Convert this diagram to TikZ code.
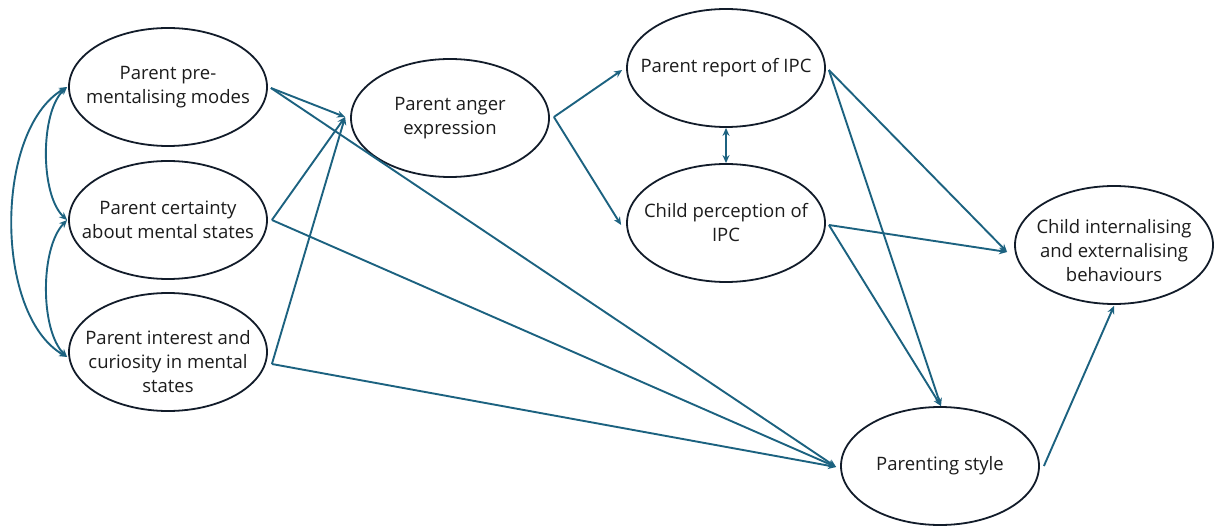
\documentclass[tikz,border=0pt]{standalone}
\usepackage{fontspec}
\setmainfont{Open Sans}
\usetikzlibrary{shapes.geometric,arrows.meta}
\definecolor{linkc}{RGB}{28,98,128}
\definecolor{edgec}{RGB}{18,28,42}
\definecolor{txtc}{RGB}{28,28,28}
\newcommand{\lowtext}[2]{\raisebox{-#1}[\height][\depth]{\begin{tabular}{@{}c@{}}#2\end{tabular}}}
\tikzset{
  var/.style={ellipse, draw=edgec, line width=1.8pt, fill=white, minimum width=198pt, minimum height=118pt, inner xsep=-40pt, inner ysep=-20pt, align=center, text=txtc, font=\fontsize{18.5}{24}\selectfont},
  link/.style={draw=linkc, line width=1.9pt, -{Stealth[length=8pt,width=7pt]}},
  dlink/.style={draw=linkc, line width=1.9pt, {Stealth[length=8pt,width=7pt]}-{Stealth[length=8pt,width=7pt]}}
}
\begin{document}
\begin{tikzpicture}[x=1pt,y=-1pt]
\useasboundingbox (0,0) rectangle (1214,526);
\node[var] (pm) at (168,87) {Parent pre-\\mentalising modes};
\node[var] (pc) at (168,220) {Parent certainty\\about mental states};
\node[var] (pi) at (168,352) {\lowtext{12pt}{Parent interest and\\curiosity in mental\\states}};
\node[var] (ang) at (450,118) {Parent anger\\expression};
\node[var] (rep) at (726,68) {Parent report of IPC};
\node[var] (cp) at (726,223) {Child perception of\\IPC};
\node[var] (ci) at (1114,245) {\lowtext{8pt}{Child internalising\\and externalising\\behaviours}};
\node[var] (ps) at (940,466) {Parenting style};
% left correlations
\draw[dlink] ([xshift=-1pt]pm.west) .. controls (40,112) and (40,195) .. ([xshift=-1pt]pc.west);
\draw[dlink] ([xshift=-1pt]pc.west) .. controls (40,248) and (40,330) .. ([xshift=-1pt,yshift=-5pt]pi.west);
\draw[dlink] ([xshift=-1pt]pm.west) .. controls (-6,130) and (-6,315) .. ([xshift=-1pt,yshift=-5pt]pi.west);
% predictors to anger and parenting style
\coordinate (angin) at ([xshift=-5pt,yshift=1pt]ang.west);
\coordinate (psin) at ([xshift=-4pt,yshift=-1pt]ps.west);
\draw[link] ([xshift=3pt,yshift=-1pt]pm.east) -- (angin);
\draw[link] ([xshift=3pt,yshift=-1pt]pm.east) -- (psin);
\draw[link] ([xshift=4pt]pc.east) -- (angin);
\draw[link] ([xshift=4pt]pc.east) -- (psin);
\draw[link] ([xshift=4pt,yshift=-12pt]pi.east) -- (angin);
\draw[link] ([xshift=4pt,yshift=-12pt]pi.east) -- (psin);
% anger to IPC
\draw[link] ([xshift=4pt,yshift=1pt]ang.east) -- ([xshift=-4pt,yshift=-2pt]rep.west);
\draw[link] ([xshift=4pt,yshift=1pt]ang.east) -- ([xshift=-5pt,yshift=-2pt]cp.west);
\draw[dlink] (rep.south) -- (cp.north);
% IPC to outcomes
\coordinate (ciin) at ([xshift=-7pt,yshift=-7pt]ci.west);
\draw[link] ([xshift=3pt,yshift=-2pt]rep.east) -- (ciin);
\draw[link] ([xshift=3pt,yshift=-2pt]rep.east) -- ([xshift=1pt]ps.north);
\draw[link] ([xshift=3pt,yshift=-2pt]cp.east) -- (ciin);
\draw[link] ([xshift=3pt,yshift=-2pt]cp.east) -- ([xshift=1pt]ps.north);
\draw[link] ([xshift=4pt]ps.east) -- ([yshift=-1pt]ci.south);
\end{tikzpicture}
\end{document}
